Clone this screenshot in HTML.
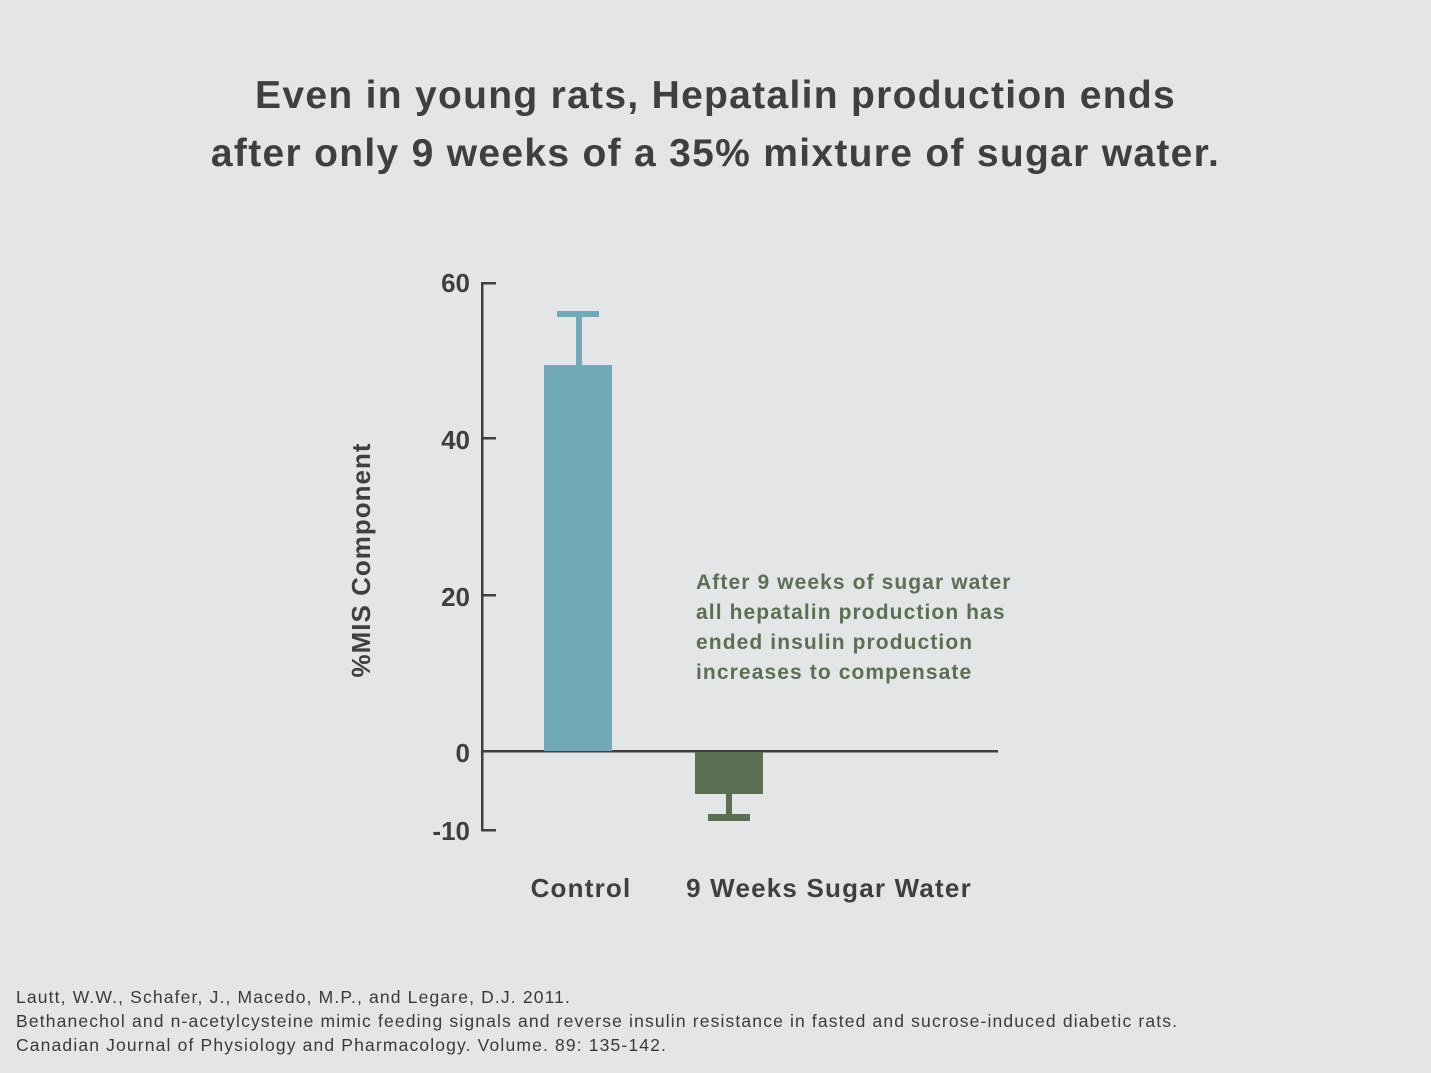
<!DOCTYPE html>
<html><head><meta charset="utf-8"><style>
body{margin:0;width:1431px;height:1073px;background:#e4e5e7;overflow:hidden;font-family:"Liberation Sans","DejaVu Sans",sans-serif;color:#3f3f3f}
.t{position:absolute;left:0;width:1431px;text-align:center;font-size:39px;font-weight:bold;line-height:58px;top:67px;letter-spacing:1.3px}
.ref{position:absolute;left:16px;top:985px;font-size:17.5px;line-height:24px;color:#3a3a3a;letter-spacing:1.15px}
</style></head><body>
<div class="t">Even in young rats, Hepatalin production ends<br>after only 9 weeks of a 35% mixture of sugar water.</div>
<svg width="1431" height="1073" style="position:absolute;left:0;top:0">
<g fill="#3f3f3f">
<rect x="481" y="282" width="2.5" height="549"/>
<rect x="481" y="282" width="15" height="2.5"/>
<rect x="481" y="829" width="15" height="2.5"/>
<rect x="481" y="437" width="15" height="2.5"/>
<rect x="481" y="594" width="15" height="2.5"/>
<rect x="481" y="750" width="517" height="2.5"/>
</g>
<g fill="#72a9b9">
<rect x="544" y="365" width="68" height="386"/>
<rect x="576" y="313" width="6" height="53"/>
<rect x="557" y="311" width="42" height="6"/>
</g>
<g fill="#5b6f52">
<rect x="695" y="752" width="68" height="42"/>
<rect x="726" y="793" width="6" height="22"/>
<rect x="708" y="814" width="42" height="7"/>
</g>
<g font-size="26" font-weight="bold" fill="#3f3f3f" text-anchor="end">
<text x="470" y="292">60</text>
<text x="470" y="449">40</text>
<text x="470" y="606">20</text>
<text x="470" y="762">0</text>
<text x="470" y="840">-10</text>
</g>
<text transform="translate(370,560) rotate(-90)" text-anchor="middle" font-size="26" font-weight="bold" fill="#3f3f3f" letter-spacing="1">%MIS Component</text>
<g font-size="26" font-weight="bold" fill="#3f3f3f" text-anchor="middle" letter-spacing="1.2">
<text x="581" y="897">Control</text>
<text x="829" y="897">9 Weeks Sugar Water</text>
</g>
<g font-size="21" font-weight="bold" fill="#5b6f52" letter-spacing="1.1">
<text x="696" y="589">After 9 weeks of sugar water</text>
<text x="696" y="619">all hepatalin production has</text>
<text x="696" y="649">ended insulin production</text>
<text x="696" y="679">increases to compensate</text>
</g>
</svg>
<div class="ref">Lautt, W.W., Schafer, J., Macedo, M.P., and Legare, D.J. 2011.<br>Bethanechol and n-acetylcysteine mimic feeding signals and reverse insulin resistance in fasted and sucrose-induced diabetic rats.<br>Canadian Journal of Physiology and Pharmacology. Volume. 89: 135-142.</div>
</body></html>
